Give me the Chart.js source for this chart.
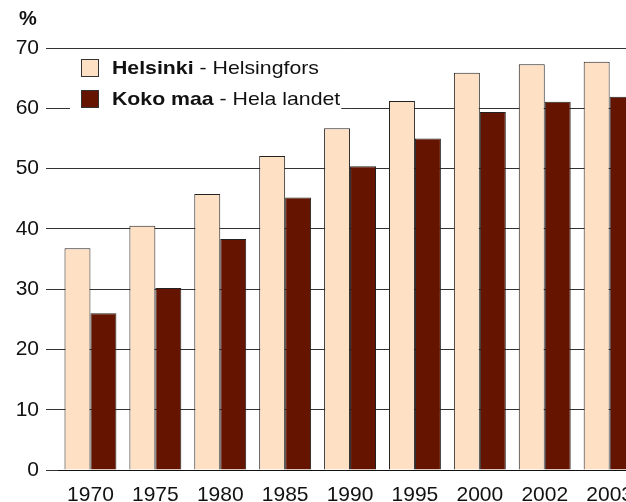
<!DOCTYPE html>
<html lang="fi">
<head>
  <meta charset="UTF-8" />
  <title>Helsinki - Koko maa</title>
  <style>
    * { margin: 0; padding: 0; box-sizing: border-box; }
    html, body { width: 626px; height: 502px; overflow: hidden; background: #fff; }
    #wrap { position: absolute; left: 0; top: 0; width: 646px; height: 502px; }
  </style>
</head>
<body>
  <div id="wrap"><canvas id="chart" width="646" height="502"></canvas></div>

  <script src="https://cdn.jsdelivr.net/npm/chart.js"></script>
  <script>
    // data
    const years = ['1970', '1975', '1980', '1985', '1990', '1995', '2000', '2002', '2003'];
    const helsinki = [36.8, 40.5, 45.8, 52.1, 56.7, 61.2, 65.9, 67.3, 67.7];
    const kokoMaa = [26.0, 30.2, 38.3, 45.2, 50.4, 55.0, 59.4, 61.1, 61.9];
    const yTicks = [0, 10, 20, 30, 40, 50, 60, 70];

    const FONT = "'Liberation Sans', Arial, sans-serif";
    const legendItems = [
      { bold: 'Helsinki', rest: ' - Helsingfors', color: '#FEE0C5' },
      { bold: 'Koko maa', rest: ' - Hela landet', color: '#651400' }
    ];

    // legend with bold + normal text, and the % unit at the top
    const legendPlugin = {
      id: 'mixedLegend',
      afterDraw(chart) {
        const ctx = chart.ctx;
        ctx.save();
        ctx.fillStyle = '#111';
        ctx.font = 'bold 20px ' + FONT;
        ctx.textBaseline = 'middle';
        ctx.fillText('%', 19, 19);

        const x0 = 81, textX = 112, sx = 1.12;
        const rows = [68, 99];
        let maxEnd = 0;
        legendItems.forEach(it => {
          ctx.font = 'bold 19px ' + FONT;
          const w1 = ctx.measureText(it.bold).width;
          ctx.font = '19px ' + FONT;
          const w2 = ctx.measureText(it.rest).width;
          maxEnd = Math.max(maxEnd, textX + (w1 + w2) * sx);
        });
        ctx.fillStyle = '#fff';
        ctx.fillRect(70, 54, maxEnd - 70 + 1, 58);

        legendItems.forEach((it, i) => {
          const y = rows[i];
          ctx.fillStyle = it.color;
          ctx.fillRect(x0, y - 9, 18, 18);
          ctx.strokeStyle = '#333';
          ctx.lineWidth = 1;
          ctx.strokeRect(x0 + 0.5, y - 8.5, 17, 17);

          ctx.save();
          ctx.translate(textX, y + 1);
          ctx.scale(sx, 1);
          ctx.fillStyle = '#111';
          ctx.font = 'bold 19px ' + FONT;
          ctx.fillText(it.bold, 0, 0);
          const w1 = ctx.measureText(it.bold).width;
          ctx.font = '19px ' + FONT;
          ctx.fillText(it.rest, w1, 0);
          ctx.restore();
        });
        ctx.restore();
      }
    };

    new Chart(document.getElementById('chart'), {
      type: 'bar',
      data: {
        labels: years,
        datasets: [
          {
            label: 'Helsinki - Helsingfors',
            data: helsinki,
            backgroundColor: legendItems[0].color,
            borderColor: '#222',
            borderWidth: 1
          },
          {
            label: 'Koko maa - Hela landet',
            data: kokoMaa,
            backgroundColor: legendItems[1].color,
            borderColor: '#222',
            borderWidth: 1
          }
        ]
      },
      options: {
        responsive: false,
        animation: false,
        layout: { padding: { left: 0, top: 48, right: 0, bottom: 0 } },
        datasets: { bar: { categoryPercentage: 0.8, barPercentage: 1.0 } },
        plugins: { legend: { display: false }, tooltip: { enabled: false } },
        scales: {
          x: {
            grid: { display: false, drawTicks: false },
            border: { display: true, color: '#111', width: 1 },
            ticks: { color: '#111', font: { family: FONT, size: 21 }, padding: 13, maxRotation: 0, autoSkip: false },
            afterFit(scale) { scale.height = 32; }
          },
          y: {
            min: 0,
            max: 70,
            afterBuildTicks(scale) { scale.ticks = yTicks.map(v => ({ value: v })); },
            grid: { color: '#333', lineWidth: 1, tickLength: 12, drawTicks: true },
            border: { display: false },
            ticks: { color: '#111', font: { family: FONT, size: 21 }, padding: 7 },
            afterFit(scale) { scale.width = 58; }
          }
        }
      },
      plugins: [legendPlugin]
    });
  </script>
</body>
</html>
